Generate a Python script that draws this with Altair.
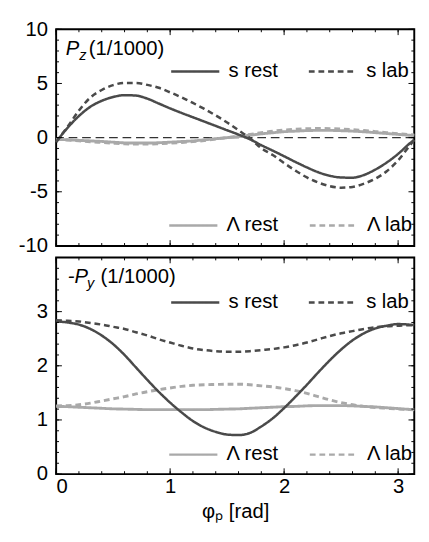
import altair as alt
import pandas as pd

# ---------------- data ----------------
PHI = [0.0, 0.1, 0.2, 0.3, 0.4, 0.5, 0.6, 0.7, 0.8, 0.9, 1.0, 1.1, 1.2, 1.3, 1.4, 1.5,
       1.6, 1.7, 1.8, 1.9, 2.0, 2.1, 2.2, 2.3, 2.4, 2.5, 2.6, 2.7, 2.8, 2.9, 3.0, 3.1, 3.1416]

# P_z (1/1000)
PZ_S_REST = [-0.4, 0.9, 2.0, 2.85, 3.4, 3.75, 3.92, 3.88, 3.6, 3.15, 2.7, 2.28, 1.88, 1.48, 1.08, 0.68,
             0.28, -0.15, -0.7, -1.2, -1.72, -2.25, -2.75, -3.2, -3.52, -3.68, -3.7, -3.45, -2.95, -2.3,
             -1.5, -0.55, -0.2]
PZ_S_LAB = [-0.4, 1.0, 2.5, 3.7, 4.4, 4.85, 5.05, 5.05, 4.87, 4.6, 4.18, 3.72, 3.2, 2.65, 2.05, 1.4,
            0.68, -0.05, -0.98, -1.6, -2.35, -3.05, -3.68, -4.15, -4.48, -4.62, -4.55, -4.25, -3.8, -3.1,
            -2.1, -0.75, -0.2]
PZ_L_REST = [-0.15, -0.2, -0.25, -0.3, -0.35, -0.42, -0.48, -0.5, -0.5, -0.47, -0.42, -0.36, -0.3, -0.2,
             -0.1, 0.0, 0.1, 0.22, 0.35, 0.45, 0.55, 0.6, 0.65, 0.67, 0.67, 0.64, 0.6, 0.54, 0.46, 0.38,
             0.3, 0.22, 0.2]
PZ_L_LAB = [-0.15, -0.22, -0.3, -0.38, -0.45, -0.52, -0.58, -0.6, -0.6, -0.57, -0.52, -0.45, -0.37, -0.27,
            -0.14, 0.0, 0.14, 0.3, 0.46, 0.6, 0.7, 0.77, 0.82, 0.84, 0.83, 0.8, 0.74, 0.66, 0.56, 0.46,
            0.36, 0.27, 0.25]

# -P_y (1/1000)
PY_S_REST = [2.82, 2.8, 2.76, 2.68, 2.56, 2.4, 2.2, 1.97, 1.74, 1.52, 1.32, 1.14, 0.98, 0.86, 0.78, 0.73,
             0.72, 0.76, 0.88, 1.03, 1.22, 1.43, 1.65, 1.88, 2.1, 2.3, 2.47, 2.6, 2.69, 2.74, 2.77, 2.76, 2.75]
PY_S_LAB = [2.84, 2.83, 2.82, 2.79, 2.76, 2.72, 2.68, 2.62, 2.56, 2.49, 2.43, 2.37, 2.32, 2.29, 2.27, 2.26,
            2.26, 2.27, 2.29, 2.31, 2.34, 2.38, 2.43, 2.49, 2.55, 2.6, 2.64, 2.68, 2.71, 2.73, 2.74, 2.75, 2.75]
PY_L_REST = [1.25, 1.245, 1.235, 1.225, 1.215, 1.205, 1.2, 1.195, 1.19, 1.19, 1.19, 1.19, 1.19, 1.19, 1.195,
             1.2, 1.205, 1.215, 1.225, 1.235, 1.245, 1.25, 1.26, 1.265, 1.265, 1.265, 1.26, 1.25, 1.24,
             1.225, 1.21, 1.195, 1.19]
PY_L_LAB = [1.26, 1.265, 1.28, 1.31, 1.35, 1.39, 1.43, 1.48, 1.52, 1.56, 1.59, 1.62, 1.64, 1.65, 1.655,
            1.66, 1.66, 1.65, 1.63, 1.61, 1.58, 1.54, 1.49, 1.43, 1.37, 1.32, 1.28, 1.25, 1.23, 1.215, 1.2,
            1.19, 1.185]

S_NAMES = ["s rest", "s lab"]
L_NAMES = ["Λ rest", "Λ lab"]
TITLE_TOP = ["P", "z", "(1/1000)"]
TITLE_BOT = ["-P", "y", "(1/1000)"]
X_DOMAIN = [0, 3.1416]
X_MAJOR = [0, 1, 2, 3]
X_MINOR = [round(0.2 * i, 1) for i in range(16)]
PZ_DOMAIN = [-10, 10]
PZ_MAJOR = [-10, -5, 0, 5, 10]
PZ_MINOR = list(range(-10, 11))
PY_DOMAIN = [0, 4]
PY_MAJOR = [0, 1, 2, 3, 4]
PY_LABELS = [0, 1, 2, 3]
PY_MINOR = [round(0.2 * i, 1) for i in range(21)]

# ---------------- styling ----------------
FONT = "Liberation Sans"
DARK = "#4a4a4a"
LIGHT = "#a9a9a9"
W, H = 372, 225
FS = 21
MAJ, MIN = 6, 3


def long_df(names, series):
    rows = []
    for name, vals in zip(names, series):
        for x, v in zip(PHI, vals):
            rows.append({"phi": x, "val": v, "series": name})
    return pd.DataFrame(rows)


def legend(lx, ly):
    return alt.Legend(orient="none", legendX=lx, legendY=ly, title=None, direction="horizontal",
                      columns=2, symbolType="stroke", symbolSize=2500, symbolStrokeWidth=2.5,
                      labelFontSize=FS, labelFont=FONT, labelColor="black", labelOffset=8,
                      columnPadding=26, padding=0, labelLimit=300)


def xticks(values, xs, length):
    d = pd.DataFrame({"t": values})
    bottom = alt.Chart(d).mark_rule(color="black", strokeWidth=1).encode(
        x=alt.X("t:Q", scale=xs, axis=None), y=alt.value(H), y2=alt.value(H - length))
    top = alt.Chart(d).mark_rule(color="black", strokeWidth=1).encode(
        x=alt.X("t:Q", scale=xs, axis=None), y=alt.value(0), y2=alt.value(length))
    return [bottom, top]


def yticks(values, ys, length):
    d = pd.DataFrame({"t": values})
    left = alt.Chart(d).mark_rule(color="black", strokeWidth=1).encode(
        y=alt.Y("t:Q", scale=ys, axis=None), x=alt.value(0), x2=alt.value(length))
    right = alt.Chart(d).mark_rule(color="black", strokeWidth=1).encode(
        y=alt.Y("t:Q", scale=ys, axis=None), x=alt.value(W), x2=alt.value(W - length))
    return [left, right]


def panel(s_vals, l_vals, ydom, ymaj, ylab, ymin, bottom, title, leg_top_y, leg_bot_y, zero_line):
    xs = alt.Scale(domain=X_DOMAIN, nice=False, zero=False)
    ys = alt.Scale(domain=ydom, nice=False, zero=False)
    sdf = long_df(S_NAMES, s_vals)
    ldf = long_df(L_NAMES, l_vals)

    if bottom:
        xaxis = alt.Axis(values=X_MAJOR, ticks=False, domain=False, grid=False,
                         labelFontSize=FS, labelFont=FONT, labelPadding=2, labelColor="black",
                         labelExpr="'' + datum.value",
                         title="φₚ [rad]", titleFontSize=FS, titleFont=FONT,
                         titleFontWeight="normal", titlePadding=5, titleColor="black")
    else:
        xaxis = None
    yaxis = alt.Axis(values=ylab, ticks=False, domain=False, grid=False, title=None,
                     labelFontSize=FS, labelFont=FONT, labelPadding=9, labelColor="black",
                     labelExpr="'' + datum.value")

    lam = alt.Chart(ldf).mark_line(strokeWidth=3, interpolate="monotone").encode(
        x=alt.X("phi:Q", scale=xs, axis=None),
        y=alt.Y("val:Q", scale=ys, axis=None),
        color=alt.Color("series:N", scale=alt.Scale(domain=L_NAMES, range=[LIGHT, LIGHT]),
                        legend=legend(116, leg_bot_y)),
        strokeDash=alt.StrokeDash("series:N", scale=alt.Scale(domain=L_NAMES, range=[[1, 0], [6, 4]]),
                                  legend=legend(116, leg_bot_y)),
    )
    s = alt.Chart(sdf).mark_line(strokeWidth=2.6, interpolate="monotone").encode(
        x=alt.X("phi:Q", scale=xs, axis=xaxis),
        y=alt.Y("val:Q", scale=ys, axis=yaxis),
        color=alt.Color("series:N", scale=alt.Scale(domain=S_NAMES, range=[DARK, DARK]),
                        legend=legend(118, leg_top_y)),
        strokeDash=alt.StrokeDash("series:N", scale=alt.Scale(domain=S_NAMES, range=[[1, 0], [6, 4]]),
                                  legend=legend(118, leg_top_y)),
    )
    layers = []
    if zero_line:
        layers.append(alt.Chart(pd.DataFrame({"z": [0]})).mark_rule(
            color="#333333", strokeWidth=1.2, strokeDash=[9, 5]).encode(
            y=alt.Y("z:Q", scale=ys, axis=None)))
    layers += [lam, s]
    layers += xticks(X_MINOR, xs, MIN) + xticks(X_MAJOR, xs, MAJ)
    layers += yticks(ymin, ys, MIN) + yticks(ymaj, ys, MAJ)

    is_top = title[0] == "P"
    tdf = pd.DataFrame({"t": [title[0]]})
    zdf = pd.DataFrame({"t": [title[1]]})
    rdf = pd.DataFrame({"t": [title[2]]})
    t1 = alt.Chart(tdf).mark_text(align="left", baseline="alphabetic", fontStyle="italic",
                                  fontSize=FS, font=FONT, color="black").encode(
        x=alt.value(10 if is_top else 12), y=alt.value(27), text="t:N")
    t2 = alt.Chart(zdf).mark_text(align="left", baseline="alphabetic", fontStyle="italic",
                                  fontSize=15, font=FONT, color="black").encode(
        x=alt.value(24 if is_top else 32), y=alt.value(32), text="t:N")
    t3 = alt.Chart(rdf).mark_text(align="left", baseline="alphabetic",
                                  fontSize=FS, font=FONT, color="black").encode(
        x=alt.value(34 if is_top else 46), y=alt.value(27), text="t:N")
    layers += [t1, t2, t3]

    return alt.layer(*layers).resolve_axis(x="independent", y="independent").resolve_scale(
        color="independent", strokeDash="independent").properties(width=W, height=H)


top = panel([PZ_S_REST, PZ_S_LAB], [PZ_L_REST, PZ_L_LAB], PZ_DOMAIN, PZ_MAJOR, PZ_MAJOR, PZ_MINOR,
            False, TITLE_TOP, 17, 177, True)
bot = panel([PY_S_REST, PY_S_LAB], [PY_L_REST, PY_L_LAB], PY_DOMAIN, PY_MAJOR, PY_LABELS, PY_MINOR,
            True, TITLE_BOT, 20, 178, False)

chart = alt.vconcat(top, bot, spacing=12, bounds="flush").resolve_scale(
    x="independent", y="independent", color="independent", strokeDash="independent"
).properties(
    padding={"left": 9, "top": 0, "right": 0, "bottom": 0}
).configure(font=FONT).configure_view(stroke="black", strokeWidth=2)

chart.save("out.html", embed_options={"renderer": "svg", "actions": False})
